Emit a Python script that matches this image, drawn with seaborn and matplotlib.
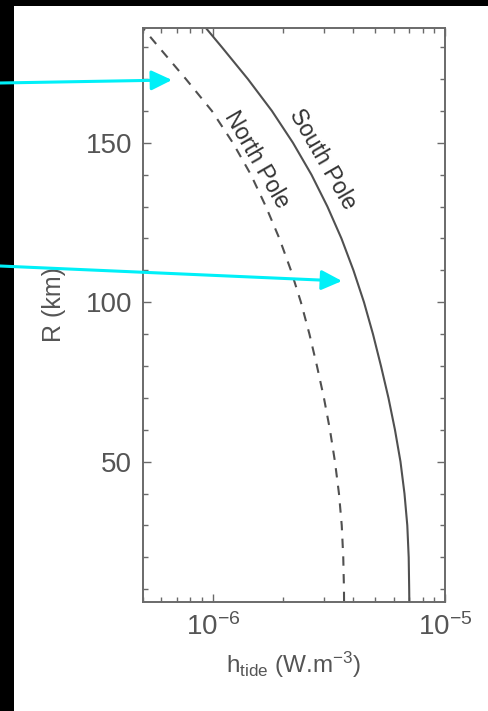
import numpy as np
import pandas as pd
import matplotlib
matplotlib.use("Agg")
import matplotlib.pyplot as plt
from matplotlib.patches import Rectangle, FancyArrowPatch
from matplotlib.ticker import LogLocator, FixedLocator, MultipleLocator, NullFormatter
import seaborn as sns

# Radius (km) and tidal heating rate (W m^-3) at each pole
radius_km = [186, 180, 170, 160, 150, 140, 130, 120, 110, 100,
             90, 80, 70, 60, 50, 40, 30, 20, 10, 6]
h_south = [0.933e-6, 1.093e-6, 1.415e-6, 1.796e-6, 2.213e-6, 2.659e-6, 3.115e-6, 3.580e-6, 4.033e-6, 4.477e-6,
           4.895e-6, 5.299e-6, 5.707e-6, 6.087e-6, 6.43e-6, 6.69e-6, 6.88e-6, 6.976e-6, 7.01e-6, 7.02e-6]
h_north = [0.499e-6, 0.585e-6, 0.765e-6, 0.990e-6, 1.219e-6, 1.458e-6, 1.692e-6, 1.934e-6, 2.169e-6, 2.395e-6,
           2.606e-6, 2.808e-6, 3.009e-6, 3.194e-6, 3.357e-6, 3.493e-6, 3.591e-6, 3.645e-6, 3.671e-6, 3.674e-6]
curve_labels = ["South Pole", "North Pole"]
x_ticks = [1e-6, 1e-5]
x_ticklabels = [r"$\mathregular{10^{-6}}$", r"$\mathregular{10^{-5}}$"]
y_ticks = [50, 100, 150]

sns.set_style("white")
plt.rcParams["font.family"] = ["Liberation Sans", "DejaVu Sans"]
plt.rcParams["mathtext.fontset"] = "custom"
plt.rcParams["mathtext.rm"] = "Liberation Sans"
plt.rcParams["mathtext.it"] = "Liberation Sans:italic"
plt.rcParams["mathtext.bf"] = "Liberation Sans:bold"

W, H = 489, 711
fig = plt.figure(figsize=(W / 100, H / 100), dpi=100, facecolor="black")
# white page area
fig.add_artist(Rectangle((14 / W, 0), 1 - 14 / W, 1 - 6 / H, transform=fig.transFigure,
                         facecolor="white", edgecolor="none", zorder=0))

ax = fig.add_axes([143 / W, 1 - 602 / H, (445 - 143) / W, (602 - 28) / H])
ax.set_facecolor("none")
ax.set_xscale("log")

line_col = "#505050"
sns.lineplot(x=h_south, y=radius_km, sort=False, estimator=None, ax=ax,
             color=line_col, lw=1.5)
sns.lineplot(x=h_north, y=radius_km, sort=False, estimator=None, ax=ax,
             color=line_col, lw=1.5, linestyle=(3, (4.5, 4)))

ax.set_xlim(5e-7, 1e-5)
ax.set_ylim(6, 186)

ax.xaxis.set_major_locator(FixedLocator(x_ticks))
ax.set_xticklabels(x_ticklabels)
ax.xaxis.set_minor_locator(LogLocator(base=10, subs=np.arange(2, 10)))
ax.xaxis.set_minor_formatter(NullFormatter())
ax.yaxis.set_major_locator(FixedLocator(y_ticks))
ax.yaxis.set_minor_locator(MultipleLocator(10))

spine_col = "#6a6a6a"
for s in ax.spines.values():
    s.set_color(spine_col)
    s.set_linewidth(1.4)
    s.set_visible(True)

ax.tick_params(which="both", direction="in", top=True, right=True, bottom=True, left=True,
               color=spine_col, width=1.0, labelcolor="#555555", labelsize=20)
ax.tick_params(which="major", length=6, pad=8)
ax.tick_params(which="minor", length=3.5)

ax.set_xlabel(r"h$_{\mathregular{tide}}$ (W.m$^{-3}$)", fontsize=17.5, color="#555555")
ax.xaxis.set_label_coords(0.5, -(650 - 602) / 574)
ax.set_ylabel("R (km)", fontsize=18, color="#555555")
ax.yaxis.set_label_coords(-(143 - 66) / 302, (602 - 305) / 574)

# curve labels along the lines
ax.text(1.55e-6, 144.7, curve_labels[1], rotation=-60, rotation_mode="anchor",
        ha="center", va="center", fontsize=16.5, color="#333333")
ax.text(2.98e-6, 144.7, curve_labels[0], rotation=-60, rotation_mode="anchor",
        ha="center", va="center", fontsize=16.5, color="#333333")

# cyan pointer arrows
def px(x, y):
    return (x / W, 1 - y / H)

for start, end in [((0, 83), (172, 80)), ((0, 266), (342, 281))]:
    arr = FancyArrowPatch(px(*start), px(*end), transform=fig.transFigure,
                          arrowstyle="-|>,head_length=12.5,head_width=6",
                          color="#00f0f8", lw=2.2, shrinkA=0, shrinkB=0, zorder=10)
    fig.add_artist(arr)

fig.savefig("out.png", dpi=100, facecolor=fig.get_facecolor())
